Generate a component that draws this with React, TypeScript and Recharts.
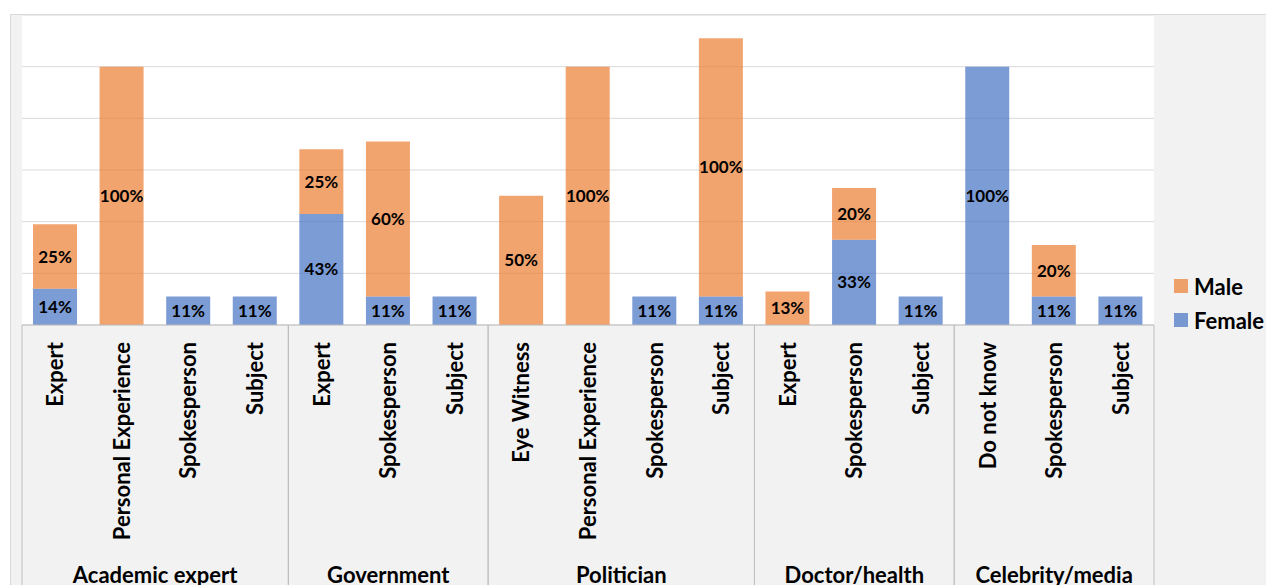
import React from 'react';
import { BarChart, Bar, XAxis, YAxis, CartesianGrid, Legend, LabelList } from 'recharts';

const GROUPS = ['Academic expert', 'Government', 'Politician', 'Doctor/health', 'Celebrity/media'];

const ROLES = [
  ['Expert', 'Personal Experience', 'Spokesperson', 'Subject'],
  ['Expert', 'Spokesperson', 'Subject'],
  ['Eye Witness', 'Personal Experience', 'Spokesperson', 'Subject'],
  ['Expert', 'Spokesperson', 'Subject'],
  ['Do not know', 'Spokesperson', 'Subject'],
];

// one entry per bar, same order as ROLES flattened
const FEMALE = [14, null, 11, 11, 43, 11, 11, null, null, 11, 11, null, 33, 11, 100, 11, 11];
const MALE = [25, 100, null, null, 25, 60, null, 50, 100, null, 100, 13, 20, null, null, 20, null];

const Y_TICKS = [0, 20, 40, 60, 80, 100, 120];

const MALE_COLOR = '#ED7D31';
const FEMALE_COLOR = '#4472C4';
const BAR_OPACITY = 0.7;
const FONT = 'Lato, "Open Sans", sans-serif';

const W = 1266;
const H = 585;
const MARGIN = { top: 15, right: 112, left: 22, bottom: 0 };
const AXIS_H = 260;
const PLOT_W = W - MARGIN.left - MARGIN.right;

const rows: any[] = [];
ROLES.forEach((roles, g) => {
  roles.forEach((role, i) => {
    rows.push({
      key: `${g}-${i}`,
      role,
      group: g,
      first: i === 0,
      last: i === roles.length - 1,
      size: roles.length,
    });
  });
});
const data = rows.map((r, i) => ({ ...r, female: FEMALE[i], male: MALE[i] }));
const BAND = PLOT_W / data.length;

const GroupTick = (props: any) => {
  const { x, y, payload } = props;
  const row = data[payload.index];
  if (!row) return null;
  const left = x - BAND / 2;
  const right = x + BAND / 2;
  const tx = x + 8;
  const ty = y + 17;
  return (
    <g>
      <line x1={left} y1={y} x2={right} y2={y} stroke="#bfbfbf" />
      {row.first && <line x1={left} y1={y} x2={left} y2={H} stroke="#bfbfbf" />}
      {row.last && <line x1={right} y1={y} x2={right} y2={H} stroke="#bfbfbf" />}
      <text
        x={tx}
        y={ty}
        transform={`rotate(-90, ${tx}, ${ty})`}
        textAnchor="end"
        fontFamily={FONT}
        fontWeight="bold"
        fontSize={22}
        fill="#000"
      >
        {row.role}
      </text>
      {row.first && (
        <text
          x={left + (row.size * BAND) / 2}
          y={y + 258}
          textAnchor="middle"
          fontFamily={FONT}
          fontWeight="bold"
          fontSize={22}
          fill="#000"
        >
          {GROUPS[row.group]}
        </text>
      )}
    </g>
  );
};

const LegendBox = () => (
  <div style={{ fontFamily: FONT, fontWeight: 'bold', fontSize: 22, color: '#000' }}>
    {[
      { name: 'Male', color: MALE_COLOR },
      { name: 'Female', color: FEMALE_COLOR },
    ].map((item) => (
      <div key={item.name} style={{ display: 'flex', alignItems: 'center', height: 34, whiteSpace: 'nowrap' }}>
        <span
          style={{
            display: 'inline-block',
            width: 14,
            height: 14,
            background: item.color,
            opacity: BAR_OPACITY,
            marginRight: 6,
          }}
        />
        {item.name}
      </div>
    ))}
  </div>
);

const pct = (v: any) => (v ? `${v}%` : '');

export default function App() {
  return (
    <div style={{ position: 'relative', width: W, height: H, overflow: 'hidden', background: '#fff' }}>
      <style>{'body{margin:0}'}</style>
      <div
        style={{
          position: 'absolute',
          left: 10,
          top: 14,
          width: W,
          height: H,
          background: '#f2f2f2',
          borderLeft: '1px solid #d9d9d9',
          borderTop: '1px solid #d9d9d9',
        }}
      />
      <div style={{ position: 'absolute', left: 0, top: 0 }}>
        <BarChart width={W} height={H} data={data} margin={MARGIN} barSize={44}>
          <CartesianGrid vertical={false} stroke="#d9d9d9" fill="#fff" />
          <XAxis
            dataKey="key"
            height={AXIS_H}
            interval={0}
            axisLine={false}
            tickLine={false}
            tickSize={0}
            tickMargin={0}
            tick={<GroupTick />}
          />
          <YAxis hide domain={[0, 120]} ticks={Y_TICKS} />
          <Legend
            layout="horizontal"
            verticalAlign="middle"
            content={<LegendBox />}
            wrapperStyle={{ position: 'absolute', left: 1174, top: 269, width: 92, height: 68 }}
          />
          <Bar dataKey="female" name="Female" stackId="a" fill={FEMALE_COLOR} fillOpacity={BAR_OPACITY} isAnimationActive={false}>
            <LabelList dataKey="female" position="center" formatter={pct} fill="#000" fontFamily={FONT} fontWeight="bold" fontSize={17} />
          </Bar>
          <Bar dataKey="male" name="Male" stackId="a" fill={MALE_COLOR} fillOpacity={BAR_OPACITY} isAnimationActive={false}>
            <LabelList dataKey="male" position="center" formatter={pct} fill="#000" fontFamily={FONT} fontWeight="bold" fontSize={17} />
          </Bar>
        </BarChart>
      </div>
    </div>
  );
}
